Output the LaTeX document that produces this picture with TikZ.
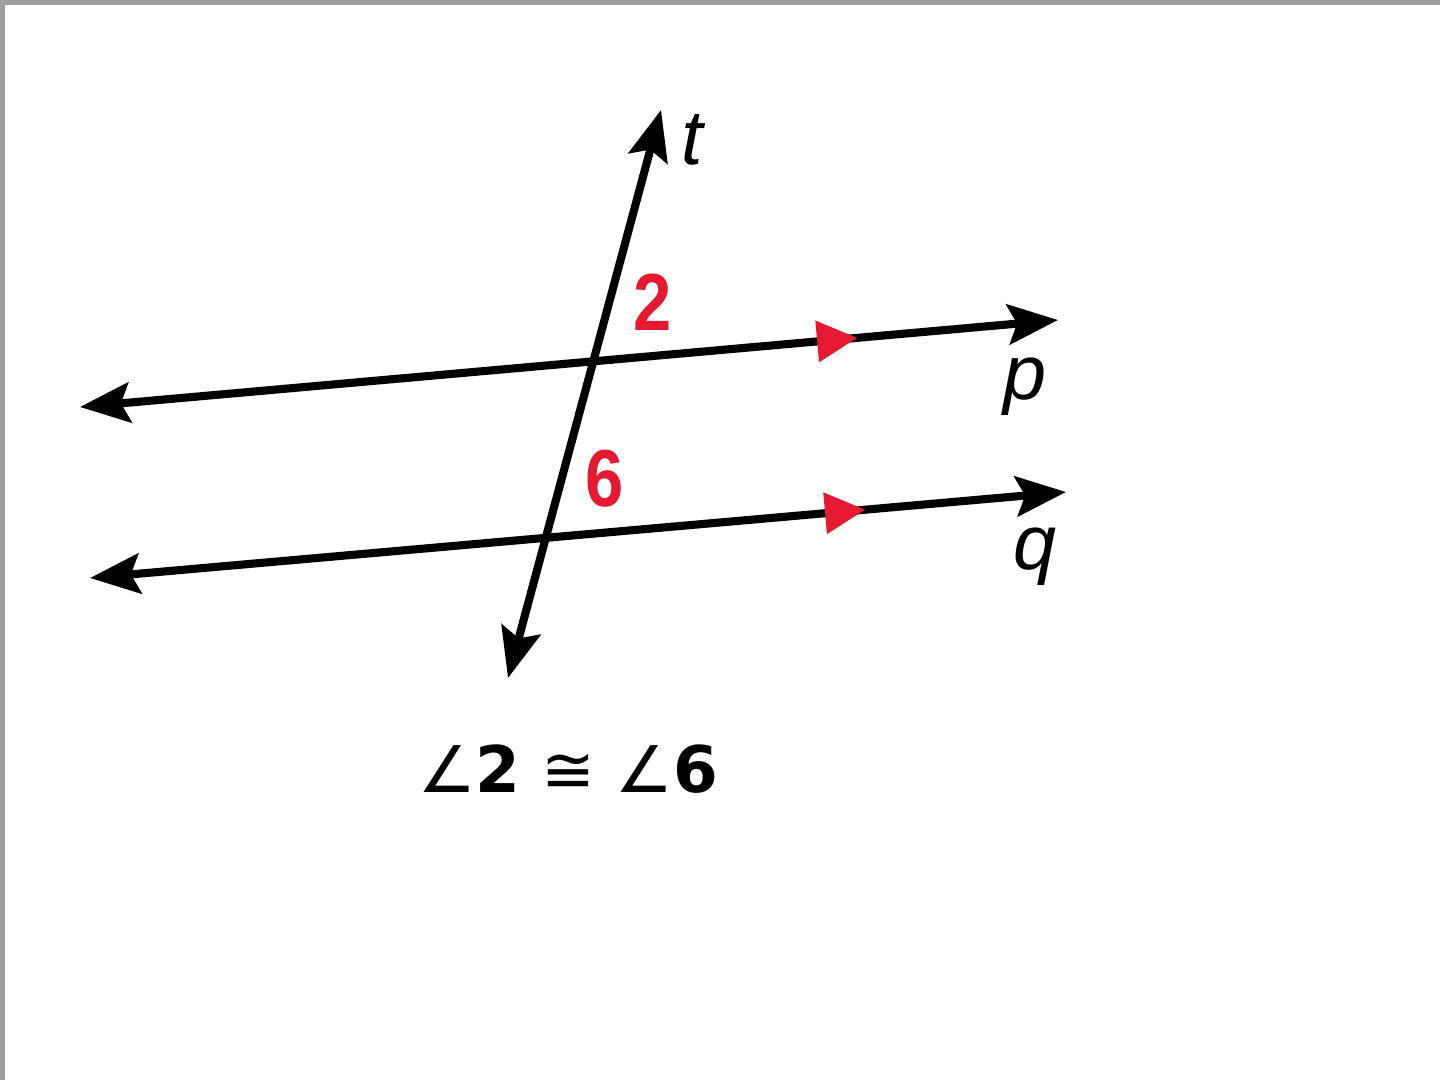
\documentclass[tikz,border=0pt]{standalone}
\usepackage{fontspec}
\setmainfont{Liberation Sans}
\newfontfamily\symfont{DejaVu Sans}
\usetikzlibrary{arrows.meta, calc}
\usepackage{xcolor}
\newcommand{\LblT}{\fontsize{22}{22}\selectfont\itshape t}
\newcommand{\LblP}{\fontsize{22}{22}\selectfont\itshape p}
\newcommand{\LblQ}{\fontsize{22}{22}\selectfont\itshape q}
\newcommand{\AngTwo}{\fontsize{23}{23}\selectfont\bfseries\scalebox{0.85}[1]{2}}
\newcommand{\AngSix}{\fontsize{23}{23}\selectfont\bfseries\scalebox{0.85}[1]{6}}
\newcommand{\Claim}{\fontsize{18.3}{18.3}\selectfont\symfont ∠\textbf{2} ≅ ∠\textbf{6}}
\definecolor{myred}{rgb}{0.898,0.098,0.188}
\definecolor{mygray}{rgb}{0.62,0.62,0.62}

\begin{document}
\begin{tikzpicture}[x=0.01cm,y=-0.01cm,
  line/.style={line width=2.3pt, {Stealth[length=0.5cm,width=0.4cm,inset=0.09cm]}-{Stealth[length=0.5cm,width=0.4cm,inset=0.09cm]}},
  lbl/.style={inner sep=0pt, anchor=base}]
  \useasboundingbox (0,0) rectangle (1440,1080);
  \draw[mygray, line width=3pt] (0,1080) -- (0,0) -- (1440,0);
  \coordinate (pL) at (80,407);
  \coordinate (pR) at (1058,320);
  \coordinate (qL) at (90,578);
  \coordinate (qR) at (1066,492);
  \coordinate (tB) at (508,678);
  \coordinate (tT) at (661,110);
  \draw[line] (pL) -- (pR);
  \draw[line] (qL) -- (qR);
  \draw[line] (tB) -- (tT);
  % parallel marks
  \coordinate (pTip) at ($(pL)!0.7945!(pR)$);
  \coordinate (pBack) at ($(pTip)!0.4cm!(pL)$);
  \coordinate (qTip) at ($(qL)!0.794!(qR)$);
  \coordinate (qBack) at ($(qTip)!0.4cm!(qL)$);
  \fill[myred] (pTip) -- ($(pBack)!0.21cm!90:(pTip)$) -- ($(pBack)!0.21cm!-90:(pTip)$) -- cycle;
  \fill[myred] (qTip) -- ($(qBack)!0.21cm!90:(qTip)$) -- ($(qBack)!0.21cm!-90:(qTip)$) -- cycle;
  \node[lbl] (t) at (692,165) {\LblT};
  \node[lbl] (p) at (1025,400) {\LblP};
  \node[lbl] (q) at (1035,570) {\LblQ};
  \node[lbl, myred] (a2) at (653,331) {\AngTwo};
  \node[lbl, myred] (a6) at (605,507) {\AngSix};
  \node[lbl] (claim) at (568,792) {\Claim};
\end{tikzpicture}
\end{document}
